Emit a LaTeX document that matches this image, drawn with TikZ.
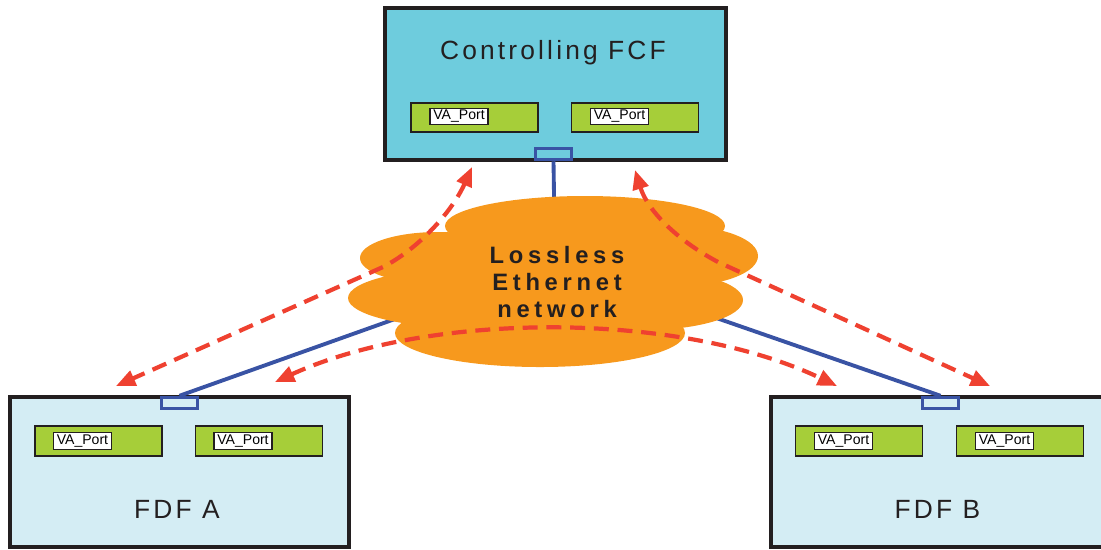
\documentclass[tikz,border=0pt]{standalone}
\usepackage{fontspec}
\setmainfont{Liberation Sans}
\newfontfamily\titlefont[LetterSpace=12]{Liberation Sans}
\newfontfamily\cloudfont[LetterSpace=20]{Liberation Sans}
\usepackage{tikz}
\usetikzlibrary{arrows.meta}
\definecolor{fcfblue}{HTML}{6ECCDD}
\definecolor{fdfblue}{HTML}{D4EDF4}
\definecolor{portgreen}{HTML}{A6CE39}
\definecolor{cloudorange}{HTML}{F7991D}
\definecolor{linkblue}{HTML}{3953A4}
\definecolor{flowred}{HTML}{EF4130}
\definecolor{edgeblack}{HTML}{231F20}

\begin{document}
\begin{tikzpicture}[x=0.02cm, y=-0.02cm, >={Triangle[length=11pt,width=9pt]},
    fcfbox/.style={draw=edgeblack, line width=2.2pt, fill=fcfblue, minimum width=6.82cm, minimum height=3.04cm},
    fdfbox/.style={draw=edgeblack, line width=2pt, fill=fdfblue, minimum width=6.78cm, minimum height=3cm},
    portbox/.style={draw=edgeblack, line width=0.9pt, fill=portgreen, minimum width=2.54cm, minimum height=0.59cm},
    vatag/.style={draw=edgeblack, line width=0.6pt, fill=white, inner sep=0pt, minimum width=1.16cm, minimum height=0.33cm, font=\fontsize{8}{9}\selectfont},
    uplink/.style={draw=linkblue, line width=2pt, minimum width=0.72cm, minimum height=0.22cm, inner sep=0pt},
    link/.style={linkblue, line width=2.2pt},
    flow/.style={flowred, line width=2.4pt, dash pattern=on 8.5pt off 5pt, <->},
    boxtitle/.style={text=edgeblack, anchor=base, font=\titlefont\fontsize{15}{18}\selectfont}]
    \clip (0,0) rectangle (1101,549);

    % Controlling FCF
    \node[fcfbox] (fcf) at (555.5,84) {};
    \node[boxtitle] (fcftitle) at (553,59) {Controlling FCF};
    \node[portbox] (fcfp1) at (474.5,117.5) {};
    \node[portbox] (fcfp2) at (635,117.5) {};
    \node[vatag] (fcft1) at (459,116.5) {VA\_Port};
    \node[vatag] (fcft2) at (619.5,116.5) {VA\_Port};
    \node[uplink] (fcfport) at (553.5,154) {};

    % FDF A
    \node[fdfbox] (fdfa) at (179.5,472) {};
    \node[portbox] (fdfap1) at (98.5,441) {};
    \node[portbox] (fdfap2) at (259,441) {};
    \node[vatag] (fdfat1) at (82.5,441) {VA\_Port};
    \node[vatag] (fdfat2) at (243,441) {VA\_Port};
    \node[uplink] (fdfaport) at (179.5,403) {};
    \node[boxtitle] (fdfatitle) at (177,518) {FDF A};

    % FDF B
    \node[fdfbox] (fdfb) at (940.5,472) {};
    \node[portbox] (fdfbp1) at (859,441) {};
    \node[portbox] (fdfbp2) at (1020,441) {};
    \node[vatag] (fdfbt1) at (843.5,441) {VA\_Port};
    \node[vatag] (fdfbt2) at (1004.5,441) {VA\_Port};
    \node[uplink] (fdfbport) at (940.5,403) {};
    \node[boxtitle] (fdfbtitle) at (937.5,518) {FDF B};

    % links into the network
    \coordinate (hub) at (555,262);
    \draw[link] (fcfport.south) -- (hub);
    \draw[link] (fdfaport.north) -- (hub);
    \draw[link] (fdfbport.north) -- (hub);

    % cloud
    \foreach \cx/\cy/\rx/\ry in {585/226/140/30, 438/258/78/26, 470/298/122/30,
        680/256/78/30, 645/300/98/30, 540/333/145/34, 555/282/150/58}
        \fill[cloudorange] (\cx,\cy) ellipse [x radius=\rx, y radius=\ry];
    \node[align=center, text=edgeblack, font=\cloudfont\bfseries\fontsize{13.5}{15.4}\selectfont]
        (cloud) at (557,282) {Lossless\\Ethernet\\network};

    % traffic
    \coordinate (ctlL) at (472,167);
    \coordinate (bendL) at (383,267);
    \coordinate (fdfaL) at (116,386);
    \coordinate (ctlR) at (635,170);
    \coordinate (bendR) at (718,262);
    \coordinate (fdfbR) at (990,386);
    \coordinate (fdfaR) at (275,382);
    \coordinate (fdfbL) at (837,386);
    \draw[flow] (ctlL) .. controls (452,212) and (418,249) .. (bendL) -- (fdfaL);
    \draw[flow] (ctlR) .. controls (648,212) and (680,242) .. (bendR) -- (fdfbR);
    \draw[flow] (fdfaR) .. controls (430,311) and (680,311) .. (fdfbL);
\end{tikzpicture}
\end{document}
